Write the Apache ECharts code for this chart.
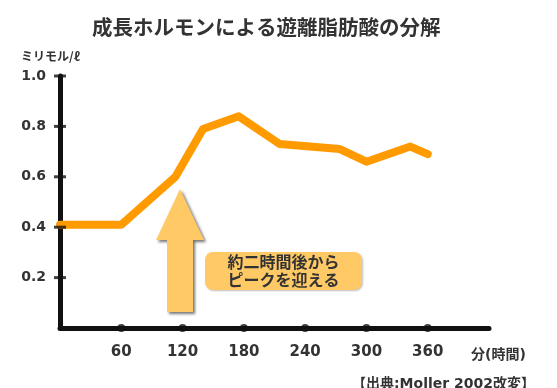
<!DOCTYPE html>
<html>
<head>
<meta charset="utf-8">
<script src="https://cdn.jsdelivr.net/npm/echarts@6/dist/echarts.min.js"></script>
<style>html,body{margin:0;padding:0;background:#fff}#c{width:557px;height:388px}</style>
</head>
<body>
<div id="c"></div>
<script>
// ---- data ----
const titleText = '成長ホルモンによる遊離脂肪酸の分解';
const yUnit = 'ミリモル/ℓ';
const xUnit = '分(時間)';
const sourceText = '【出典:Moller 2002改変】';
const noteLines = ['約二時間後から', 'ピークを迎える'];
const minutes = [0, 60, 113, 140, 175, 215, 274, 300, 343, 360];
const ffa = [0.41, 0.41, 0.60, 0.79, 0.84, 0.73, 0.71, 0.66, 0.72, 0.69];
const xTicks = [60, 120, 180, 240, 300, 360];
const yTicks = [0.2, 0.4, 0.6, 0.8, 1.0];

const chart = echarts.init(document.getElementById('c'), null, {renderer: 'canvas'});
const ink = '#333333';
const font = 'DejaVu Sans, Noto Sans CJK JP, sans-serif';
const cjk = 'Noto Sans CJK JP, sans-serif';

chart.setOption({
  backgroundColor: '#ffffff',
  animation: false,
  title: [
    {text: titleText, left: 87, top: 12, textStyle: {fontSize: 20.5, fontWeight: 'bold', color: ink, fontFamily: cjk}},
    {text: yUnit, left: 16, top: 45, textStyle: {fontSize: 12, fontWeight: 'bold', color: ink, fontFamily: cjk}},
    {text: xUnit, left: 466, top: 343, textStyle: {fontSize: 14, fontWeight: 'bold', color: ink, fontFamily: font}},
    {text: sourceText, right: 17, top: 372, textStyle: {fontSize: 14, fontWeight: 'bold', color: ink, fontFamily: font}}
  ],
  grid: {left: 60, right: 68, top: 76, bottom: 60},
  xAxis: {
    type: 'value', min: 0, max: 420, interval: 60,
    axisLine: {show: true, lineStyle: {color: '#111', width: 5}},
    axisTick: {show: false},
    splitLine: {show: false},
    axisLabel: {
      margin: 17, fontSize: 15, fontWeight: 'bold', color: ink, fontFamily: font,
      formatter: v => xTicks.includes(v) ? String(v) : ''
    }
  },
  yAxis: {
    type: 'value', min: 0, max: 1.0, interval: 0.2,
    axisLine: {show: true, lineStyle: {color: '#111', width: 5}},
    axisTick: {show: false},
    splitLine: {show: false},
    axisLabel: {
      margin: 14, fontSize: 14, fontWeight: 'bold', color: ink, fontFamily: font,
      formatter: v => v > 0.01 ? v.toFixed(1) : ''
    }
  },
  series: [
    {
      type: 'line', data: minutes.map((m, i) => [m, ffa[i]]),
      showSymbol: false, smooth: false, z: 3,
      lineStyle: {color: '#FF9A00', width: 8, cap: 'round', join: 'round'}
    },
    {
      type: 'scatter', data: xTicks.map(t => [t, 0]), symbol: 'circle', symbolSize: 8,
      itemStyle: {color: '#111'}, clip: false, silent: true, z: 4
    },
    {
      type: 'scatter', data: yTicks.map(t => [0, t]), symbol: 'rect', symbolSize: [12, 3],
      itemStyle: {color: '#111'}, clip: false, silent: true, z: 4
    }
  ],
  graphic: [
    {
      type: 'polygon', z: 10,
      shape: {points: [[180, 189], [204, 240], [193, 240], [193, 312], [167, 312], [167, 240], [156, 240]]},
      style: {fill: '#FFC966', shadowBlur: 3, shadowOffsetX: 2, shadowOffsetY: 2, shadowColor: 'rgba(0,0,0,0.55)'}
    },
    {
      type: 'rect', z: 10,
      shape: {x: 205, y: 252, width: 157, height: 38, r: 8},
      style: {fill: '#FFC966', shadowBlur: 2, shadowOffsetX: 1, shadowOffsetY: 1, shadowColor: 'rgba(0,0,0,0.25)'}
    },
    {
      type: 'text', z: 11, x: 283.5, y: 262,
      style: {text: noteLines[0], fill: ink, font: 'bold 16px ' + cjk, textAlign: 'center', textVerticalAlign: 'middle'}
    },
    {
      type: 'text', z: 11, x: 283.5, y: 280,
      style: {text: noteLines[1], fill: ink, font: 'bold 16px ' + cjk, textAlign: 'center', textVerticalAlign: 'middle'}
    }
  ]
});
</script>
</body>
</html>
